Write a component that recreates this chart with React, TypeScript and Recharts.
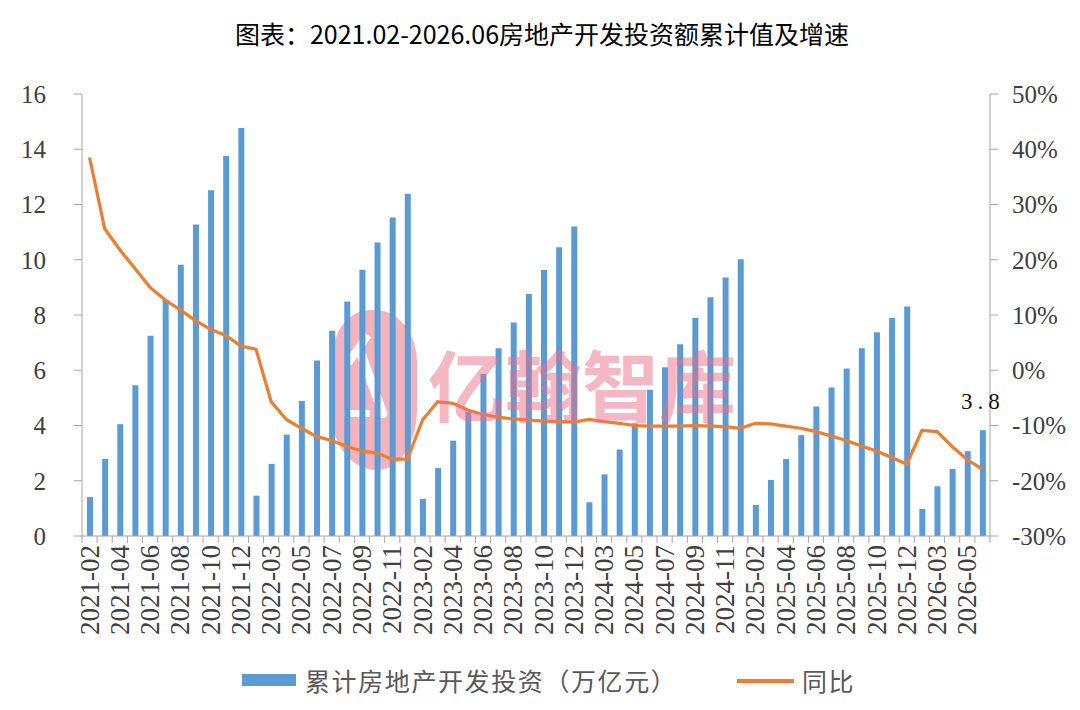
import { Bar, ComposedChart, LabelList, Line, XAxis, YAxis } from "recharts";

// 月份（1月与2月合并统计，故每年从02开始）
const months = [
  "2021-02", "2021-03", "2021-04", "2021-05", "2021-06", "2021-07", "2021-08", "2021-09", "2021-10", "2021-11", "2021-12",
  "2022-02", "2022-03", "2022-04", "2022-05", "2022-06", "2022-07", "2022-08", "2022-09", "2022-10", "2022-11", "2022-12",
  "2023-02", "2023-03", "2023-04", "2023-05", "2023-06", "2023-07", "2023-08", "2023-09", "2023-10", "2023-11", "2023-12",
  "2024-02", "2024-03", "2024-04", "2024-05", "2024-06", "2024-07", "2024-08", "2024-09", "2024-10", "2024-11", "2024-12",
  "2025-02", "2025-03", "2025-04", "2025-05", "2025-06", "2025-07", "2025-08", "2025-09", "2025-10", "2025-11", "2025-12",
  "2026-02", "2026-03", "2026-04", "2026-05", "2026-06",
];

// 累计房地产开发投资（万亿元）
const investment = [
  1.41, 2.79, 4.05, 5.46, 7.25, 8.55, 9.82, 11.28, 12.52, 13.76, 14.77,
  1.46, 2.61, 3.67, 4.89, 6.35, 7.43, 8.49, 9.64, 10.62, 11.53, 12.39,
  1.34, 2.46, 3.45, 4.5, 5.86, 6.8, 7.73, 8.76, 9.63, 10.45, 11.2,
  1.22, 2.23, 3.13, 4.08, 5.29, 6.11, 6.94, 7.89, 8.64, 9.36, 10.02,
  1.12, 2.03, 2.79, 3.65, 4.69, 5.38, 6.06, 6.8, 7.38, 7.89, 8.31,
  0.98, 1.8, 2.43, 3.07, 3.83,
];

// 同比（%）
const growth = [
  38.5, 25.6, 21.8, 18.4, 15.0, 12.7, 10.9, 9.0, 7.4, 6.3, 4.4,
  3.8, -5.7, -8.9, -10.5, -12.0, -12.7, -13.8, -14.6, -15.0, -16.1, -16.1,
  -9.0, -5.7, -6.0, -7.2, -8.0, -8.5, -8.8, -9.0, -9.2, -9.3, -9.4,
  -8.9, -9.3, -9.6, -10.0, -10.1, -10.1, -10.1, -10.0, -10.1, -10.2, -10.5,
  -9.6, -9.7, -10.1, -10.5, -11.1, -11.9, -12.7, -13.7, -14.6, -15.8, -17.0,
  -10.9, -11.1, -13.8, -16.2, -17.9,
];

const leftTicks = [0, 2, 4, 6, 8, 10, 12, 14, 16];
const rightTicks = [-30, -20, -10, 0, 10, 20, 30, 40, 50];

const data = months.map((m, i) => ({ m, inv: investment[i], yoy: growth[i] }));

const BLUE = "#5b9bd5";
const ORANGE = "#ed7d31";
const AXIS = "#a6a6a6";
const SERIF = "Liberation Serif, DejaVu Serif, serif";
const CJK = "Noto Sans CJK SC, Noto Sans, sans-serif";
const PINK = "rgba(234,112,136,0.5)";

const PLOT_LEFT = 82;
const PLOT_RIGHT = 990;
const band = (PLOT_RIGHT - PLOT_LEFT) / months.length;

function MonthTick(props: any) {
  const { x, y, index, payload } = props;
  const left = x - band / 2;
  return (
    <g>
      <line x1={left} x2={left} y1={y} y2={y + 7} stroke={AXIS} />
      {index === months.length - 1 && (
        <line x1={x + band / 2} x2={x + band / 2} y1={y} y2={y + 7} stroke={AXIS} />
      )}
      {index % 2 === 0 && (
        <text
          x={x}
          y={y + 9}
          transform={`rotate(-90, ${x}, ${y + 9})`}
          textAnchor="end"
          dominantBaseline="central"
          fill="#404040"
          style={{ fontSize: 27, fontFamily: SERIF }}
        >
          {payload.value}
        </text>
      )}
    </g>
  );
}

function LastLabel(props: any) {
  const { x, y, width, index, value } = props;
  if (index !== months.length - 1) return null;
  return (
    <text
      x={x + width / 2}
      y={y - 21}
      textAnchor="middle"
      fill="#111"
      style={{ fontSize: 23, fontFamily: SERIF, letterSpacing: 5 }}
    >
      {Number(value).toFixed(1)}
    </text>
  );
}

const tickStyle = { fill: "#404040", fontSize: 25, fontFamily: SERIF };

export default function App() {
  return (
    <div style={{ position: "absolute", left: 0, top: 0, width: 1080, height: 710, background: "#fff" }}>
      <div
        style={{
          position: "absolute",
          top: 18,
          left: 0,
          width: 1084,
          textAlign: "center",
          fontFamily: CJK,
          fontSize: 25,
          lineHeight: "30px",
          color: "#000",
        }}
      >
        图表：2021.02-2026.06房地产开发投资额累计值及增速
      </div>

      {/* watermark logo (behind the bars) */}
      <div
        style={{
          position: "absolute",
          left: 332,
          top: 310,
          width: 85,
          height: 160,
          borderRadius: "38px 42px 40px 44px / 48px 52px 60px 56px",
          background: "#f3b3be",
          overflow: "hidden",
          pointerEvents: "none",
        }}
      >
        <div
          style={{
            position: "absolute",
            left: 22,
            top: 22,
            width: 8,
            height: 34,
            background: "#fff",
            transform: "rotate(35deg)",
          }}
        />
        <div
          style={{
            position: "absolute",
            left: 36,
            top: 40,
            width: 9,
            height: 70,
            background: "#fff",
            borderRadius: 5,
            transform: "rotate(-20deg)",
          }}
        />
        <div
          style={{
            position: "absolute",
            left: 12,
            top: 100,
            width: 26,
            height: 7,
            background: "#fff",
          }}
        />
      </div>

      <div style={{ position: "absolute", left: 0, top: 0 }}>
        <ComposedChart width={1080} height={710} data={data} margin={{ top: 94, right: 0, bottom: 54, left: 0 }}>
          <XAxis
            dataKey="m"
            interval={0}
            height={120}
            tickSize={0}
            tickMargin={0}
            tickLine={false}
            axisLine={{ stroke: AXIS }}
            tick={<MonthTick />}
          />
          <YAxis
            yAxisId="left"
            domain={[0, 16]}
            ticks={leftTicks}
            width={82}
            tickSize={8}
            tickMargin={28}
            axisLine={{ stroke: AXIS }}
            tickLine={{ stroke: AXIS }}
            tick={tickStyle}
          />
          <YAxis
            yAxisId="right"
            orientation="right"
            domain={[-30, 50]}
            ticks={rightTicks}
            width={90}
            tickSize={8}
            tickMargin={14}
            axisLine={{ stroke: AXIS }}
            tickLine={{ stroke: AXIS }}
            tickFormatter={(v: number) => `${v}%`}
            tick={tickStyle}
          />
          <Bar yAxisId="left" dataKey="inv" fill={BLUE} barSize={6} isAnimationActive={false}>
            <LabelList dataKey="inv" content={<LastLabel />} />
          </Bar>
          <Line
            yAxisId="right"
            type="linear"
            dataKey="yoy"
            stroke={ORANGE}
            strokeWidth={3.2}
            dot={false}
            isAnimationActive={false}
          />
        </ComposedChart>
      </div>

      {/* watermark text */}
      <div
        style={{
          position: "absolute",
          left: 428,
          top: 344,
          fontFamily: CJK,
          fontSize: 77,
          lineHeight: "77px",
          fontWeight: "bold",
          color: PINK,
          pointerEvents: "none",
          whiteSpace: "nowrap",
        }}
      >
        亿翰智库
      </div>

      {/* legend */}
      <div style={{ position: "absolute", left: 242, top: 674, width: 54, height: 12, background: BLUE }} />
      <div
        style={{
          position: "absolute",
          left: 305,
          top: 665,
          fontFamily: CJK,
          fontSize: 25,
          lineHeight: "30px",
          letterSpacing: 1.6,
          color: "#595959",
          whiteSpace: "nowrap",
        }}
      >
        累计房地产开发投资（万亿元）
      </div>
      <div style={{ position: "absolute", left: 737, top: 679, width: 57, height: 4, background: ORANGE }} />
      <div
        style={{
          position: "absolute",
          left: 802,
          top: 665,
          fontFamily: CJK,
          fontSize: 25,
          lineHeight: "30px",
          letterSpacing: 1.6,
          color: "#595959",
        }}
      >
        同比
      </div>
    </div>
  );
}
